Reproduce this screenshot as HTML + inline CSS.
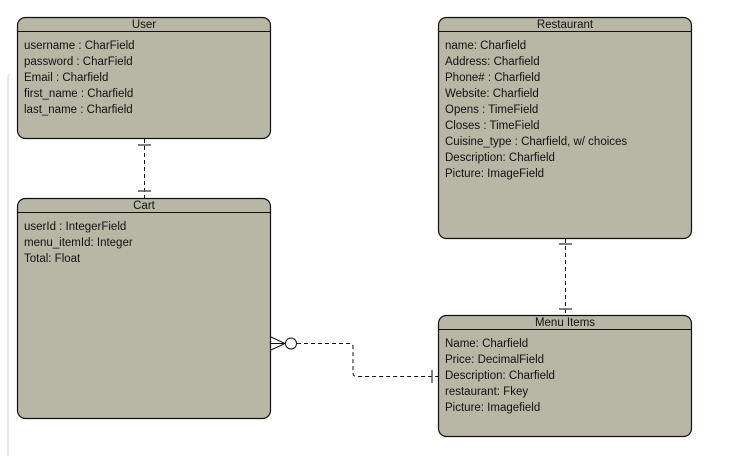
<!DOCTYPE html>
<html><head><meta charset="utf-8"><style>
html,body{margin:0;padding:0;background:#fff;width:737px;height:456px;overflow:hidden}
svg{display:block}
text{font-family:"Liberation Sans",Arial,sans-serif;font-size:11.5px;fill:#111}
</style></head><body>
<svg width="737" height="456" viewBox="0 0 737 456" xmlns="http://www.w3.org/2000/svg">
<path d="M10 75 Q8 75 8 77 L8 456" stroke="#e2e2e2" fill="none" stroke-width="1.5"/>
<g fill="#b8b7a6" stroke="#111" stroke-width="1.2">
<rect x="17.5" y="17.5" width="253" height="121" rx="8"/>
<rect x="17.5" y="198.5" width="253" height="220" rx="8"/>
<rect x="438.5" y="17.5" width="253" height="221" rx="8"/>
<rect x="438.5" y="315.5" width="253" height="121" rx="8"/>
</g>
<g stroke="#111" stroke-width="1">
<line x1="17.5" y1="31.5" x2="270.5" y2="31.5"/>
<line x1="17.5" y1="212.5" x2="270.5" y2="212.5"/>
<line x1="438.5" y1="31.5" x2="691.5" y2="31.5"/>
<line x1="438.5" y1="329.5" x2="691.5" y2="329.5"/>
</g>
<g text-anchor="middle">
<text x="144" y="28">User</text>
<text x="144" y="209">Cart</text>
<text x="565" y="28">Restaurant</text>
<text x="565" y="326">Menu Items</text>
</g>
<text x="24" y="49">username : CharField</text>
<text x="24" y="65">password : CharField</text>
<text x="24" y="81">Email : Charfield</text>
<text x="24" y="97">first_name : Charfield</text>
<text x="24" y="113">last_name : Charfield</text>
<text x="24" y="230">userId : IntegerField</text>
<text x="24" y="246">menu_itemId: Integer</text>
<text x="24" y="262">Total: Float</text>
<text x="445" y="49">name: Charfield</text>
<text x="445" y="65">Address: Charfield</text>
<text x="445" y="81">Phone# : Charfield</text>
<text x="445" y="97">Website: Charfield</text>
<text x="445" y="113">Opens : TimeField</text>
<text x="445" y="129">Closes : TimeField</text>
<text x="445" y="145">Cuisine_type : Charfield, w/ choices</text>
<text x="445" y="161">Description: Charfield</text>
<text x="445" y="177">Picture: ImageField</text>
<text x="445" y="347">Name: Charfield</text>
<text x="445" y="363">Price: DecimalField</text>
<text x="445" y="379">Description: Charfield</text>
<text x="445" y="395">restaurant: Fkey</text>
<text x="445" y="411">Picture: Imagefield</text>
<g stroke="#111" stroke-width="1" fill="none" stroke-dasharray="4,3">
<line x1="144.5" y1="139" x2="144.5" y2="198"/>
<line x1="565.5" y1="239" x2="565.5" y2="315"/>
<path d="M297 343.5 L349 343.5 Q353 343.5 353 347 L353 373 Q353 376.5 357 376.5 L438 376.5"/>
</g>
<g stroke="#555" stroke-width="1.5">
<line x1="138" y1="145" x2="151" y2="145"/>
<line x1="138" y1="191" x2="151" y2="191"/>
<line x1="559" y1="244" x2="572" y2="244"/>
<line x1="559" y1="309" x2="572" y2="309"/>
<line x1="432" y1="370" x2="432" y2="383"/>
</g>
<g stroke="#111" stroke-width="1" fill="none">
<path d="M271 337 L285 343.5 L271 350"/>
<line x1="271" y1="343.5" x2="285" y2="343.5"/>
<circle cx="291" cy="343.5" r="5.5" fill="#fff"/>
</g>
</svg>
</body></html>
